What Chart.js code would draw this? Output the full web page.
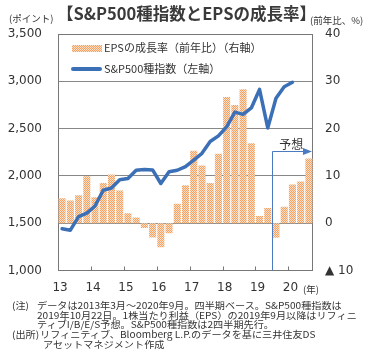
<!DOCTYPE html>
<html lang="ja">
<head>
<meta charset="utf-8">
<script src="https://cdn.jsdelivr.net/npm/chart.js@4.4.1/dist/chart.umd.min.js"></script>
<style>
body { margin:0; background:#fff; font-family:"Noto Sans CJK JP", sans-serif; color:#333; }
#wrap { position:relative; width:369px; height:360px; overflow:hidden; }
#chart { position:absolute; left:0; top:0; }
.t { position:absolute; white-space:nowrap; line-height:1; }
.title { left:57px; top:5px; font-size:16.5px; font-weight:700; color:#3a3a3a; }
.unit { font-size:9.5px; color:#333; }
.leg { font-size:11px; color:#333; }
.sw-bar { position:absolute; left:72px; top:45px; width:30px; height:7px;
  background:repeating-conic-gradient(#f5a062 0 25%, #fde0c8 0 50%) 0 0/2px 2px; }
.sw-line { position:absolute; left:71px; top:67px; width:31px; height:4px; border-radius:2px; background:#3b6fb6; }
.note { font-size:9.3px; color:#333; transform:scaleX(1.09); transform-origin:0 0; }
</style>
</head>
<body>
<div id="wrap">
  <canvas id="chart" width="369" height="300"></canvas>
  <div class="t title">【S&amp;P500種指数とEPSの成長率】</div>
  <div class="t unit" style="left:9px;top:14px;">(ポイント)</div>
  <div class="t unit" style="left:310px;top:16px;">(前年比、%)</div>
  <div class="t unit" style="left:303px;top:285px;">(年)</div>

  <div class="sw-bar"></div>
  <div class="t leg" style="left:104px;top:42px;">EPSの成長率（前年比）（右軸）</div>
  <div class="sw-line"></div>
  <div class="t leg" style="left:104px;top:63px;">S&amp;P500種指数（左軸）</div>

  <div class="t note" style="left:12px;top:301px;">(注)</div>
  <div class="t note" style="left:37px;top:301px;">データは2013年3月～2020年9月。四半期ベース。S&amp;P500種指数は</div>
  <div class="t note" style="left:37px;top:310.5px;">2019年10月22日。1株当たり利益（EPS）の2019年9月以降はリフィニ</div>
  <div class="t note" style="left:37px;top:320px;">ティブI/B/E/S予想。S&amp;P500種指数は2四半期先行。</div>
  <div class="t note" style="left:12px;top:329.5px;">(出所)</div>
  <div class="t note" style="left:40px;top:329.5px;">リフィニティブ、Bloomberg L.P.のデータを基に三井住友DS</div>
  <div class="t note" style="left:43px;top:339.5px;">アセットマネジメント作成</div>
</div>

<script>
// quarters 2013Q1 .. 2020Q3, year label on each Q1
const quarters = ["13","","","","14","","","","15","","","","16","","","",
                  "17","","","","18","","","","19","","","","20","",""];

// EPS growth rate, % y/y (right axis)
const epsGrowth = [5.3, 4.8, 5.9, 9.9, 5.5, 8.5, 10.3, 6.9, 2.1, 1.2, -1.0, -3.0,
                   -5.1, -2.1, 4.1, 8.0, 15.3, 12.2, 8.5, 14.7, 26.7, 25.0, 28.3, 16.9,
                   1.5, 3.2, -3.1, 3.5, 8.2, 8.8, 13.7];

// S&P500 index, 2 quarters ahead (left axis)
const sp500 = [1441, 1426, 1569, 1606, 1682, 1848, 1872, 1960, 1972, 2059, 2068, 2063,
               1920, 2044, 2060, 2099, 2168, 2239, 2363, 2423, 2519, 2674, 2650, 2718,
               2914, 2507, 2820, 2942, 2990, null, null];

const leftTicks = [1000, 1500, 2000, 2500, 3000, 3500];
const rightTicks = [-10, 0, 10, 20, 30, 40];

const forecastFrom = 26;     // first forecast quarter (2019Q3)
const forecastLevel = 15.3;  // height of the arrow, right axis units
const forecastLabel = "予想";

const yearStarts = [4, 8, 12, 16, 20, 24, 28];

/* ===== bar pattern ===== */
const pc = document.createElement("canvas");
pc.width = 2; pc.height = 2;
const pctx = pc.getContext("2d");
pctx.fillStyle = "#fde0c8"; pctx.fillRect(0,0,2,2);
pctx.fillStyle = "#f5a062"; pctx.fillRect(0,0,1,1); pctx.fillRect(1,1,1,1);
const barPattern = pctx.createPattern(pc, "repeat");

/* ===== frame, year ticks, forecast arrow ===== */
const extras = {
    id: "extras",
    beforeDatasetsDraw(chart) {
        const {ctx, chartArea: a, scales} = chart;
        const xs = scales.x;
        ctx.save();
        ctx.strokeStyle = "#777";
        ctx.lineWidth = 1;
        ctx.strokeRect(Math.round(a.left)+0.5, Math.round(a.top)+0.5,
                       Math.round(a.right-a.left)-1, Math.round(a.bottom-a.top)-1);
        yearStarts.forEach(k => {
            const x = Math.round((xs.getPixelForValue(k-1) + xs.getPixelForValue(k)) / 2) + 0.5;
            ctx.beginPath();
            ctx.moveTo(x, a.bottom);
            ctx.lineTo(x, a.bottom - 4);
            ctx.stroke();
        });
        ctx.restore();
    },
    afterDatasetsDraw(chart) {
        const {ctx, chartArea: a, scales} = chart;
        const xs = scales.x;
        const x = Math.round((xs.getPixelForValue(forecastFrom-1) + xs.getPixelForValue(forecastFrom)) / 2) + 0.5;
        const y = Math.round(scales.yR.getPixelForValue(forecastLevel)) + 0.5;
        const tip = a.right - 1;
        ctx.save();
        ctx.strokeStyle = "#4a7bc0";
        ctx.fillStyle = "#4a7bc0";
        ctx.lineWidth = 1;
        ctx.beginPath();
        ctx.moveTo(x, a.bottom);
        ctx.lineTo(x, y);
        ctx.lineTo(tip - 8, y);
        ctx.stroke();
        ctx.beginPath();
        ctx.moveTo(tip, y);
        ctx.lineTo(tip - 9, y - 3.5);
        ctx.lineTo(tip - 9, y + 3.5);
        ctx.closePath();
        ctx.fill();
        ctx.fillStyle = "#333";
        ctx.font = "12px 'Noto Sans CJK JP'";
        ctx.textAlign = "center";
        ctx.textBaseline = "bottom";
        ctx.fillText(forecastLabel, (x + tip) / 2 - 1, y - 1);
        ctx.restore();
    }
};

const tickFont = {family: "DejaVu Sans", size: 12};

new Chart(document.getElementById("chart"), {
    data: {
        labels: quarters,
        datasets: [{
            type: "line",
            label: "S&P500種指数（左軸）",
            data: sp500,
            yAxisID: "yL",
            borderColor: "#3b6fb6",
            borderWidth: 3.5,
            pointRadius: 0,
            tension: 0,
            borderJoinStyle: "round",
            borderCapStyle: "round",
            order: 1
        }, {
            type: "bar",
            label: "EPSの成長率（前年比）（右軸）",
            data: epsGrowth,
            yAxisID: "yR",
            backgroundColor: barPattern,
            borderWidth: 0,
            categoryPercentage: 1,
            barPercentage: 0.86,
            order: 2
        }]
    },
    options: {
        responsive: false,
        animation: false,
        devicePixelRatio: 1,
        layout: {padding: {top: 34, left: 0, right: 0, bottom: 0}},
        plugins: {legend: {display: false}, tooltip: {enabled: false}},
        scales: {
            x: {
                offset: true,
                grid: {display: false, drawTicks: false},
                border: {display: false},
                ticks: {autoSkip: false, maxRotation: 0, padding: 10, labelOffset: -2,
                        color: "#333", font: tickFont},
                afterFit: s => { s.height = 29.5; }
            },
            yL: {
                position: "left",
                min: 1000, max: 3500,
                afterBuildTicks: s => { s.ticks = leftTicks.map(v => ({value: v})); },
                grid: {color: "#888", drawTicks: false},
                border: {display: false},
                ticks: {padding: 16, color: "#333", font: tickFont,
                        callback: v => v.toLocaleString("en-US")},
                afterFit: s => { s.width = 58; }
            },
            yR: {
                position: "right",
                min: -10, max: 40,
                afterBuildTicks: s => { s.ticks = rightTicks.map(v => ({value: v})); },
                grid: {display: false, drawTicks: false},
                border: {display: false},
                ticks: {padding: 12, color: "#333", font: tickFont,
                        callback: v => v < 0 ? "▲ " + Math.abs(v) : String(v)},
                afterFit: s => { s.width = 56; }
            }
        }
    },
    plugins: [extras]
});
</script>
</body>
</html>
